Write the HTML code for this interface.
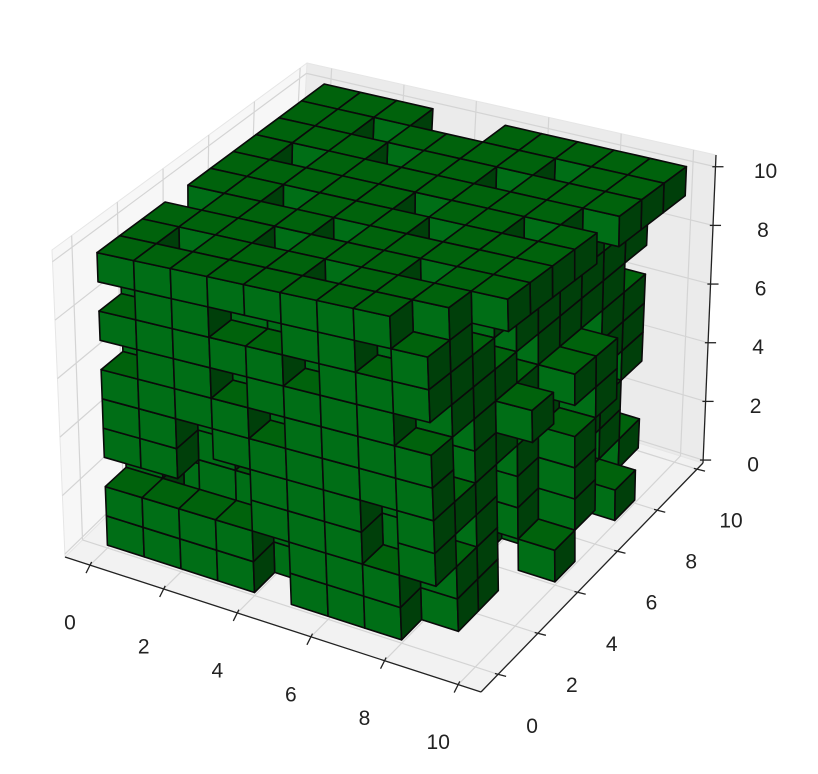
<!DOCTYPE html>
<html><head><meta charset="utf-8"><style>
html,body{margin:0;padding:0;background:#fff;}
svg{display:block;font-family:"Liberation Sans","DejaVu Sans",sans-serif;}
</style></head><body>
<svg id="chart" width="818" height="774" viewBox="0 0 818 774" xmlns="http://www.w3.org/2000/svg">
<g id="panes"></g>
<g id="axes"></g>
<g id="voxels"></g>
<g id="labels"></g>
</svg>
<script>
// voxel occupancy: layers z=0..9, rows y=0..9 (front to back), chars x=0..9
const layers = [
["1111011100","1110111010","1101110110","0111011100","1110101101","1011111010","1110110100","0111101111","1101111100","1110011110"],
["1111011100","1011110110","1110111010","1101101100","0111111010","1110110111","1011101100","1111011100","0110111110","1101110100"],
["0000111010","1011111100","1110011010","1011111100","1101110110","0111101101","1110111000","1011011110","1111101010","1101111100"],
["1100111010","1110101110","0111111010","1101011100","1011110110","1110111011","0111011100","1101110110","1011111100","1110101110"],
["1101111110","1011011100","1111100110","0110111010","1101111100","1011010110","1110111101","0111101010","1101111110","1111010110"],
["1111011110","1101110100","1010111110","1111101011","0111011110","1101111011","1011101101","1110110100","0111111010","1101011110"],
["0110111100","1011101110","1111011010","1101110110","1110111100","0111101110","1101011110","1011111010","1110110110","1111011100"],
["1111101110","1101111010","0111010110","1110111100","1011101110","1101110110","1110111010","0111101110","1101111010","1011101110"],
["0110011010","1101101110","1011110100","1110011110","0111101010","1011011110","1101111010","1110101110","0111110100","1101011010"],
["1111111100","1011101110","1110111011","0111011111","1101110111","1111101101","1011111110","1110110111","1101111011","1110011111"]
];
const xTicks = [0,2,4,6,8,10];
const yTicks = [0,2,4,6,8,10];
const zTicks = [0,2,4,6,8,10];
const xTickLabels = ["0","2","4","6","8","10"];
const yTickLabels = ["0","2","4","6","8","10"];
const zTickLabels = ["0","2","4","6","8","10"];

const NS="http://www.w3.org/2000/svg";
const C={ // pane corners [x][y][z]
 "000":[65,557],"100":[481,692],"010":[292,335],"110":[703,463],
 "001":[52,250],"101":[466,338],"011":[307,63],"111":[716,155]};
const XL=[-0.68,10.62],YL=[-0.86,10.3],ZL=[-0.1,10.4];
function proj(x,y,z){
 const u=(x-XL[0])/(XL[1]-XL[0]),v=(y-YL[0])/(YL[1]-YL[0]),w=(z-ZL[0])/(ZL[1]-ZL[0]);
 let px=0,py=0;
 for(const a of [0,1])for(const b of [0,1])for(const c of [0,1]){
  const wt=(a?u:1-u)*(b?v:1-v)*(c?w:1-w);const p=C[""+a+b+c];px+=wt*p[0];py+=wt*p[1];}
 return [px,py];
}
function poly(parent,pts,fill,stroke,sw,name){
 const e=document.createElementNS(NS,"polygon");
 e.setAttribute("points",pts.map(p=>p[0].toFixed(1)+","+p[1].toFixed(1)).join(" "));
 e.setAttribute("fill",fill);e.setAttribute("stroke",stroke);e.setAttribute("stroke-width",sw);
 e.setAttribute("stroke-linejoin","round");
 
 
 parent.appendChild(e);return e;
}
function line(parent,a,b,stroke,sw,name){
 const e=document.createElementNS(NS,"line");
 e.setAttribute("x1",a[0]);e.setAttribute("y1",a[1]);e.setAttribute("x2",b[0]);e.setAttribute("y2",b[1]);
 e.setAttribute("stroke",stroke);e.setAttribute("stroke-width",sw);
 
 
 parent.appendChild(e);
}
const panes=document.getElementById("panes");
const x0=XL[0],x1=XL[1],y0=YL[0],y1=YL[1],z0=ZL[0],z1=ZL[1];
poly(panes,[proj(x0,y0,z0),proj(x1,y0,z0),proj(x1,y1,z0),proj(x0,y1,z0)],"#f2f2f2","#e6e6e6",1,"floor-pane");
poly(panes,[proj(x0,y1,z0),proj(x1,y1,z0),proj(x1,y1,z1),proj(x0,y1,z1)],"#ebebeb","#e6e6e6",1,"back-pane");
poly(panes,[proj(x0,y0,z0),proj(x0,y1,z0),proj(x0,y1,z1),proj(x0,y0,z1)],"#f7f7f7","#e6e6e6",1,"left-pane");
const gc="#d4d4d4";
xTicks.forEach(t=>{line(panes,proj(t,y0,z0),proj(t,y1,z0),gc,1.2,"x-grid-line");line(panes,proj(t,y1,z0),proj(t,y1,z1),gc,1.2,"x-grid-line");});
yTicks.forEach(t=>{line(panes,proj(x0,t,z0),proj(x1,t,z0),gc,1.2,"y-grid-line");line(panes,proj(x0,t,z0),proj(x0,t,z1),gc,1.2,"y-grid-line");});
zTicks.forEach(t=>{line(panes,proj(x0,y0,t),proj(x0,y1,t),gc,1.2,"z-grid-line");line(panes,proj(x0,y1,t),proj(x1,y1,t),gc,1.2,"z-grid-line");});
const ax=document.getElementById("axes");
line(ax,proj(x0,y0,z0),proj(x1,y0,z0),"#222",1.3,"x-axis-line");
line(ax,proj(x1,y0,z0),proj(x1,y1,z0),"#222",1.3,"y-axis-line");
line(ax,proj(x1,y1,z0),proj(x1,y1,z1),"#222",1.3,"z-axis-line");
const labels=document.getElementById("labels");
function tickAndLabel(p,dx,dy,lx,ly,txt,name){
 line(ax,[p[0]-dx*0.4,p[1]-dy*0.4],[p[0]+dx,p[1]+dy],"#222",1.3,name+"-tick");
 const t=document.createElementNS(NS,"text");
 t.setAttribute("x",(p[0]+lx).toFixed(1));t.setAttribute("y",(p[1]+ly).toFixed(1));
 t.setAttribute("font-size","21");t.setAttribute("fill","#222");t.setAttribute("text-anchor","middle");
 t.setAttribute("dominant-baseline","central");
 
 
 t.textContent=txt;labels.appendChild(t);
}
xTicks.forEach((v,i)=>tickAndLabel(proj(v,y0,z0),-4,8,-20,58,xTickLabels[i],"x-tick"));
yTicks.forEach((v,i)=>tickAndLabel(proj(x1,v,z0),8,2,34,52,yTickLabels[i],"y-tick"));
zTicks.forEach((v,i)=>tickAndLabel(proj(x1,y1,v),8,0,50,5,zTickLabels[i],"z-tick"));

// voxels
const filled=(i,j,k)=>i>=0&&i<10&&j>=0&&j<10&&k>=0&&k<10&&layers[k][j][i]==="1";
const list=[];
for(let k=0;k<10;k++)for(let j=0;j<10;j++)for(let i=0;i<10;i++)if(filled(i,j,k))list.push([i,j,k]);
list.sort((a,b)=>(0.433*a[0]-0.75*a[1]+0.5*a[2])-(0.433*b[0]-0.75*b[1]+0.5*b[2]));
const vg=document.getElementById("voxels");
const TOP="#00620c",FRONT="#006e16",RIGHT="#003f0a",EDGE="#0a0a0a";
list.forEach(([i,j,k])=>{
 if(!filled(i,j-1,k))poly(vg,[proj(i,j,k),proj(i+1,j,k),proj(i+1,j,k+1),proj(i,j,k+1)],FRONT,EDGE,1.6,"voxel-front-face");
 if(!filled(i+1,j,k))poly(vg,[proj(i+1,j,k),proj(i+1,j+1,k),proj(i+1,j+1,k+1),proj(i+1,j,k+1)],RIGHT,EDGE,1.6,"voxel-side-face");
 if(!filled(i,j,k+1))poly(vg,[proj(i,j,k+1),proj(i+1,j,k+1),proj(i+1,j+1,k+1),proj(i,j+1,k+1)],TOP,EDGE,1.6,"voxel-top-face");
});
</script>
</body></html>
